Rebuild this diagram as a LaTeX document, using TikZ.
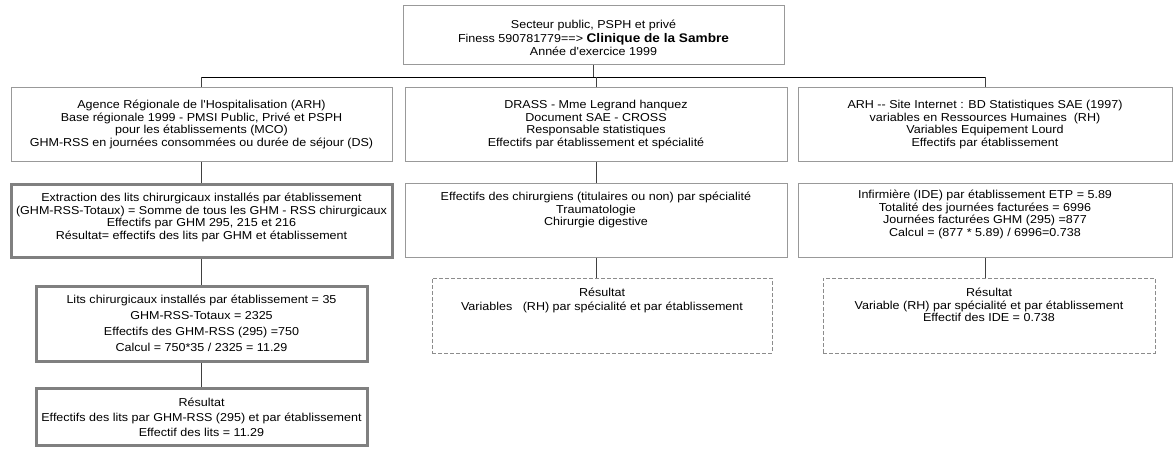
\documentclass[tikz,border=0pt]{standalone}
\usepackage{fontspec}
\setmainfont{Liberation Sans}[FakeStretch=1.09,Ligatures=TeXOff]
\begin{document}
\begin{tikzpicture}[x=1pt,y=-1pt,
  thinbox/.style={draw=black!40,line width=1pt,rectangle,inner sep=0pt},
  thickbox/.style={draw=black!50,line width=3pt,rectangle,inner sep=0pt},
  dashbox/.style={draw=black!45,line width=1pt,dashed,dash pattern=on 4pt off 2pt,rectangle,inner sep=0pt},
  txt/.style={align=center,inner sep=0pt,anchor=north,font=\fontsize{11.5}{12.5}\selectfont},
  conn/.style={draw=black!75,line width=0.9pt}]
\useasboundingbox (0,0) rectangle (1173,448);
\newcommand\fl{\rule{0pt}{11pt}}
% boxes
\node[thinbox,minimum width=381pt,minimum height=59pt] (top) at (593.5,34.5) {};
\node[thinbox,minimum width=381pt,minimum height=74pt] (A) at (201.5,124) {};
\node[thinbox,minimum width=382pt,minimum height=74pt] (B) at (596,124) {};
\node[thinbox,minimum width=374pt,minimum height=74pt] (C) at (985,124) {};
\node[thickbox,minimum width=381pt,minimum height=73pt] (D) at (201.5,220.5) {};
\node[thinbox,minimum width=382pt,minimum height=74pt] (E) at (596,220) {};
\node[thinbox,minimum width=374pt,minimum height=74pt] (F) at (985,220) {};
\node[thickbox,minimum width=331pt,minimum height=75pt] (G) at (201.5,323.5) {};
\node[thickbox,minimum width=331pt,minimum height=57pt] (H) at (201.5,416.5) {};
\node[dashbox,minimum width=340pt,minimum height=75pt] (I) at (602,315.5) {};
\node[dashbox,minimum width=332pt,minimum height=75pt] (J) at (989,315.5) {};
% texts
\node[txt,font=\fontsize{11.5}{13.5}\selectfont] (topt) at ([yshift=-13pt]top.north) {\fl Secteur public, PSPH et privé\\Finess 590781779==> {\fontsize{12.5}{13.5}\selectfont\bfseries Clinique de la Sambre}\\Année d'exercice 1999};
\node[txt] (At) at ([yshift=-11pt]A.north) {\fl Agence Régionale de l'Hospitalisation (ARH)\\Base régionale 1999 - PMSI Public, Privé et PSPH\\pour les établissements (MCO)\\GHM-RSS en journées consommées ou durée de séjour (DS)};
\node[txt] (Bt) at ([yshift=-11pt]B.north) {\fl DRASS - Mme Legrand hanquez\\Document SAE - CROSS\\Responsable statistiques\\Effectifs par établissement et spécialité};
\node[txt] (Ct) at ([yshift=-11pt]C.north) {\fl ARH -- Site Internet : BD Statistiques SAE (1997)\\variables en Ressources Humaines~~(RH)\\Variables Equipement Lourd\\Effectifs par établissement};
\node[txt] (Dt) at ([yshift=-8pt]D.north) {\fl Extraction des lits chirurgicaux installés par établissement\\(GHM-RSS-Totaux) = Somme de tous les GHM - RSS chirurgicaux\\Effectifs par GHM 295, 215 et 216\\Résultat= effectifs des lits par GHM et établissement};
\node[txt] (Et) at ([yshift=-7pt]E.north) {\fl Effectifs des chirurgiens (titulaires ou non) par spécialité\\Traumatologie\\Chirurgie digestive};
\node[txt] (Ft) at ([yshift=-5pt]F.north) {\fl Infirmière (IDE) par établissement ETP = 5.89\\Totalité des journées facturées = 6996\\Journées facturées GHM (295) =877\\Calcul = (877 * 5.89) / 6996=0.738};
\node[txt,font=\fontsize{11.5}{16}\selectfont] (Gt) at ([yshift=-8pt]G.north) {\fl Lits chirurgicaux installés par établissement = 35\\GHM-RSS-Totaux = 2325\\Effectifs des GHM-RSS (295) =750\\Calcul = 750*35 / 2325 = 11.29};
\node[txt,font=\fontsize{11.5}{15}\selectfont] (Ht) at ([yshift=-9pt]H.north) {\fl Résultat\\Effectifs des lits par GHM-RSS (295) et par établissement\\Effectif des lits = 11.29};
\node[txt,font=\fontsize{11.5}{14}\selectfont] (It) at ([yshift=-8pt]I.north) {\fl Résultat\\Variables~~~(RH) par spécialité et par établissement};
\node[txt,font=\fontsize{11.5}{12.5}\selectfont] (Jt) at ([yshift=-8pt]J.north) {\fl Résultat\\Variable (RH) par spécialité et par établissement\\Effectif des IDE = 0.738};
% connectors
\coordinate (bus) at (0,77);
\draw[conn] (top.south) -- (top.south |- bus);
\draw[conn,draw=black] (A.north |- bus) -- (C.north |- bus);
\draw[conn] (A.north |- bus) -- (A.north);
\draw[conn] (B.north |- bus) -- (B.north);
\draw[conn] (C.north |- bus) -- (C.north);
\draw[conn] (A.south) -- (D.north);
\draw[conn] (D.south) -- (G.north);
\draw[conn] (G.south) -- (H.north);
\draw[conn] (B.south) -- (E.north);
\draw[conn] (E.south) -- (E.south |- I.north);
\draw[conn] (F.south) -- (F.south |- J.north);
\end{tikzpicture}
\end{document}
